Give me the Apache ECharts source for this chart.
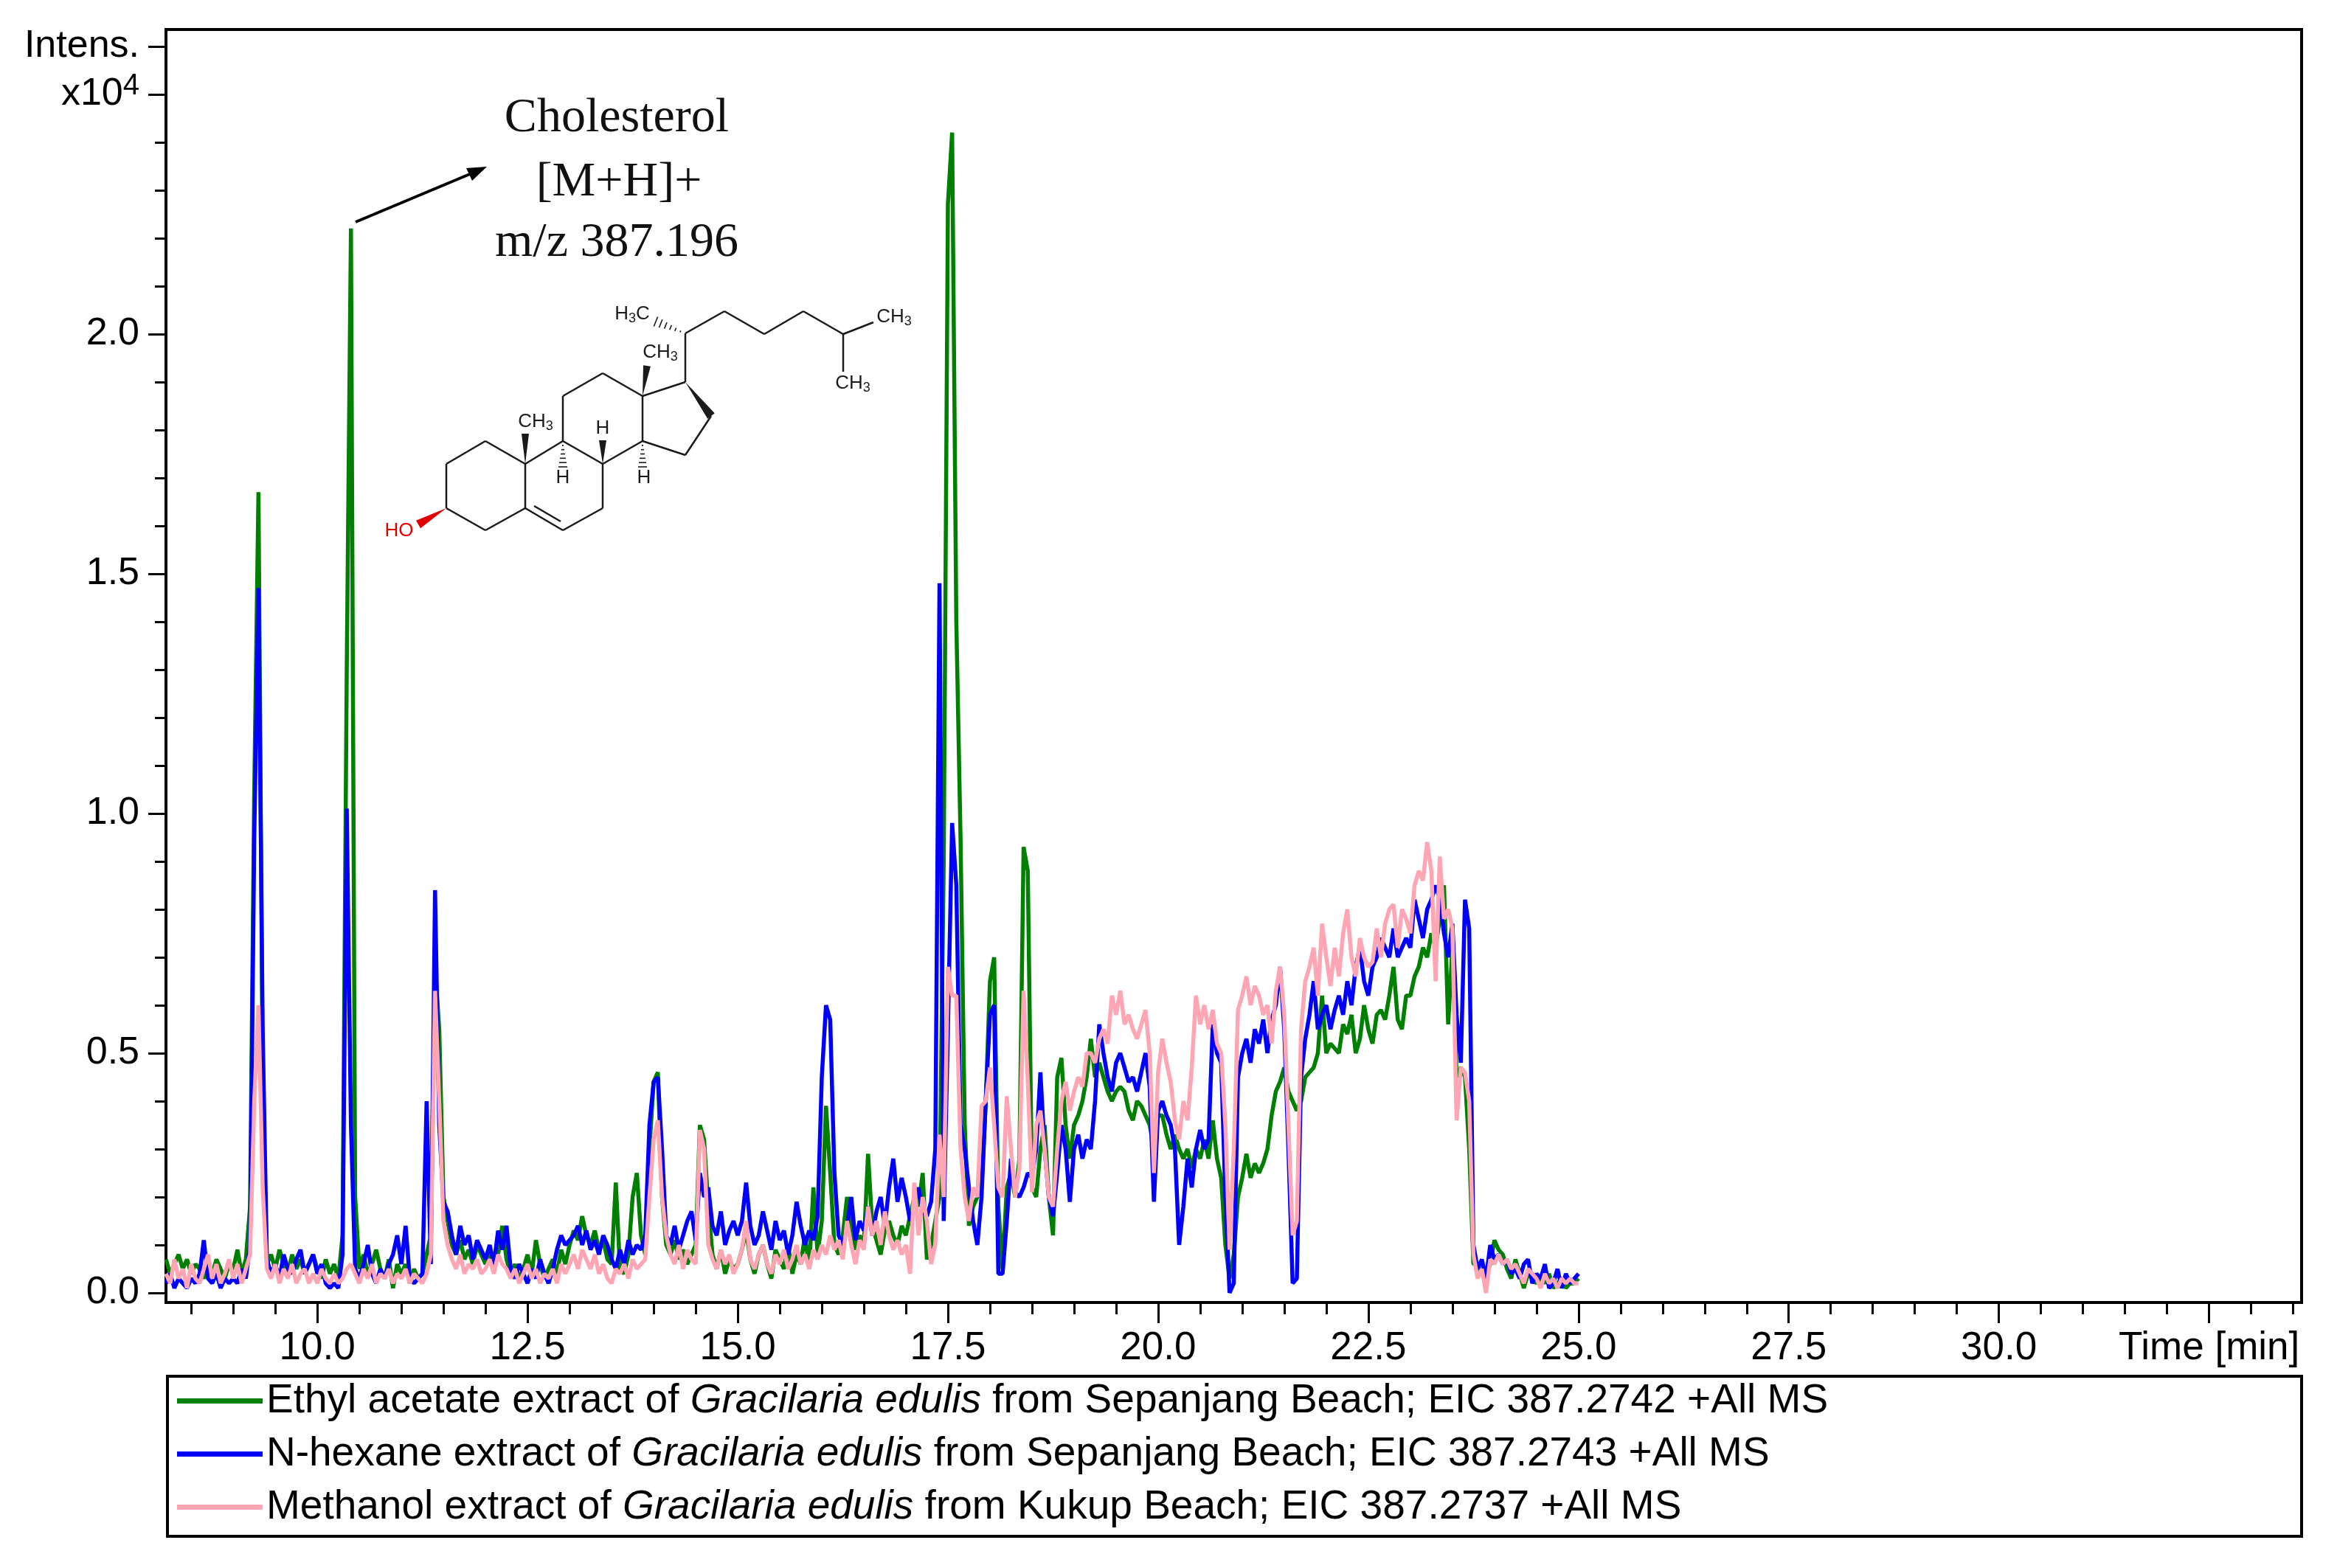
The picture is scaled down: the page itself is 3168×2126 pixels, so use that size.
<!DOCTYPE html>
<html>
<head>
<meta charset="utf-8">
<title>EIC 387.27 - Gracilaria edulis extracts</title>
<script src="https://cdn.jsdelivr.net/npm/echarts@6.0.0/dist/echarts.min.js"></script>
<style>
  html, body { margin: 0; padding: 0; background: #fff; }
  #chart { width: 3168px; height: 2126px; }
</style>
</head>
<body>
<div id="chart"></div>
<script>
// sampling grid of the traces (min)
var startTime = 8.2;
var sampleStep = 0.05;

// intensities x10^4, one value per 0.05 min
var ethylAcetate = [
    0.07, 0.04, 0.06, 0.08, 0.05, 0.07, 0.04, 0.06, 0.05, 0.03, 0.06, 0.04, 0.07, 0.05, 0.03, 0.06,
    0.05, 0.09, 0.04, 0.07, 0.18, 1.05, 1.67, 0.45, 0.06, 0.08, 0.05, 0.09, 0.06, 0.04, 0.08, 0.05, 0.07, 0.04, 0.06, 0.08,
    0.05, 0.03, 0.07, 0.04, 0.06, 0.03, 0.12, 1.30, 2.22, 0.20, 0.05, 0.08, 0.04, 0.06, 0.09, 0.05, 0.03, 0.07, 0.01, 0.06,
    0.04, 0.06, 0.02, 0.05, 0.03, 0.04, 0.08, 0.12, 0.68, 0.55, 0.20, 0.15, 0.10, 0.08, 0.11, 0.07, 0.09, 0.06, 0.10, 0.08,
    0.06, 0.09, 0.05, 0.08, 0.14, 0.07, 0.04, 0.06, 0.03, 0.05, 0.08, 0.04, 0.11, 0.06, 0.03, 0.05, 0.07, 0.04, 0.09, 0.06,
    0.10, 0.13, 0.11, 0.16, 0.12, 0.10, 0.13, 0.09, 0.11, 0.07, 0.06, 0.23, 0.05, 0.04, 0.08, 0.20, 0.25, 0.12, 0.08, 0.30,
    0.44, 0.46, 0.20, 0.10, 0.08, 0.11, 0.07, 0.09, 0.06, 0.08, 0.10, 0.35, 0.32, 0.18, 0.08, 0.05, 0.09, 0.04, 0.07, 0.05,
    0.06, 0.09, 0.13, 0.07, 0.04, 0.08, 0.10, 0.06, 0.03, 0.09, 0.07, 0.05, 0.10, 0.04, 0.08, 0.06, 0.12, 0.05, 0.22, 0.08,
    0.15, 0.39, 0.25, 0.10, 0.08, 0.12, 0.20, 0.14, 0.09, 0.12, 0.10, 0.29, 0.14, 0.11, 0.08, 0.13, 0.15, 0.12, 0.10, 0.14,
    0.12, 0.16, 0.20, 0.18, 0.25, 0.07, 0.10, 0.15, 0.20, 0.90, 2.27, 2.42, 1.40, 0.95, 0.35, 0.14, 0.18, 0.20, 0.22, 0.40,
    0.65, 0.70, 0.18, 0.05, 0.22, 0.25, 0.20, 0.28, 0.93, 0.88, 0.22, 0.20, 0.30, 0.35, 0.20, 0.12, 0.45, 0.49, 0.35, 0.28,
    0.35, 0.37, 0.40, 0.45, 0.53, 0.45, 0.48, 0.45, 0.42, 0.40, 0.42, 0.43, 0.42, 0.38, 0.36, 0.40, 0.39, 0.37, 0.35, 0.30,
    0.37, 0.37, 0.33, 0.30, 0.33, 0.30, 0.28, 0.30, 0.26, 0.30, 0.28, 0.32, 0.28, 0.36, 0.28, 0.24, 0.10, 0.03, 0.08, 0.20,
    0.24, 0.29, 0.24, 0.27, 0.25, 0.27, 0.30, 0.37, 0.42, 0.44, 0.47, 0.42, 0.40, 0.38, 0.40, 0.45, 0.46, 0.47, 0.50, 0.62,
    0.50, 0.52, 0.51, 0.50, 0.56, 0.54, 0.58, 0.50, 0.53, 0.60, 0.55, 0.52, 0.58, 0.59, 0.57, 0.62, 0.68, 0.57, 0.55, 0.62,
    0.62, 0.66, 0.68, 0.72, 0.70, 0.75, 0.72, 0.78, 0.85, 0.56, 0.72, 0.45, 0.47, 0.45, 0.30, 0.06, 0.06, 0.04, 0.04, 0.06,
    0.11, 0.09, 0.08, 0.05, 0.03, 0.07, 0.04, 0.01, 0.04, 0.03, 0.02, 0.03, 0.02, 0.04, 0.01, 0.02, 0.03, 0.01, 0.02, 0.02,
    0.03
];

var nHexane = [
    0.02, 0.04, 0.01, 0.03, 0.02, 0.01, 0.03, 0.02, 0.04, 0.11, 0.03, 0.02, 0.04, 0.01, 0.03, 0.02,
    0.03, 0.02, 0.05, 0.03, 0.10, 0.95, 1.47, 0.55, 0.07, 0.04, 0.06, 0.03, 0.08, 0.05, 0.04, 0.07, 0.09, 0.04, 0.06, 0.08,
    0.04, 0.06, 0.02, 0.01, 0.02, 0.01, 0.08, 1.01, 0.35, 0.05, 0.03, 0.06, 0.10, 0.04, 0.02, 0.05, 0.03, 0.06, 0.08, 0.12,
    0.06, 0.14, 0.03, 0.02, 0.03, 0.04, 0.40, 0.06, 0.84, 0.35, 0.19, 0.17, 0.12, 0.08, 0.14, 0.10, 0.12, 0.07, 0.11, 0.09,
    0.07, 0.10, 0.06, 0.13, 0.09, 0.14, 0.05, 0.03, 0.06, 0.04, 0.02, 0.05, 0.03, 0.07, 0.04, 0.02, 0.05, 0.09, 0.12, 0.10,
    0.11, 0.12, 0.14, 0.10, 0.13, 0.09, 0.11, 0.08, 0.12, 0.10, 0.07, 0.05, 0.09, 0.06, 0.11, 0.08, 0.10, 0.09, 0.12, 0.35,
    0.44, 0.45, 0.30, 0.12, 0.10, 0.14, 0.09, 0.12, 0.15, 0.17, 0.11, 0.25, 0.20, 0.22, 0.14, 0.12, 0.17, 0.10, 0.13, 0.15,
    0.12, 0.15, 0.23, 0.14, 0.10, 0.12, 0.17, 0.13, 0.09, 0.15, 0.11, 0.13, 0.08, 0.12, 0.19, 0.14, 0.10, 0.13, 0.11, 0.16,
    0.45, 0.60, 0.57, 0.25, 0.12, 0.10, 0.14, 0.20, 0.11, 0.15, 0.13, 0.18, 0.12, 0.17, 0.20, 0.14, 0.22, 0.28, 0.19, 0.24,
    0.20, 0.15, 0.18, 0.22, 0.17, 0.16, 0.19, 0.30, 1.48, 0.15, 0.55, 0.98, 0.85, 0.35, 0.30, 0.22, 0.15, 0.10, 0.20, 0.40,
    0.58, 0.60, 0.04, 0.04, 0.15, 0.28, 0.21, 0.20, 0.22, 0.25, 0.24, 0.30, 0.46, 0.30, 0.20, 0.16, 0.25, 0.35, 0.30, 0.19,
    0.30, 0.33, 0.28, 0.32, 0.30, 0.40, 0.56, 0.50, 0.45, 0.42, 0.48, 0.50, 0.47, 0.44, 0.45, 0.42, 0.46, 0.50, 0.43, 0.19,
    0.38, 0.40, 0.37, 0.35, 0.30, 0.10, 0.18, 0.28, 0.22, 0.30, 0.34, 0.30, 0.32, 0.56, 0.50, 0.48, 0.20, 0.00, 0.02, 0.45,
    0.50, 0.53, 0.48, 0.55, 0.52, 0.57, 0.50, 0.57, 0.60, 0.68, 0.55, 0.30, 0.02, 0.03, 0.45, 0.53, 0.58, 0.65, 0.55, 0.58,
    0.60, 0.55, 0.59, 0.62, 0.58, 0.65, 0.60, 0.68, 0.72, 0.65, 0.62, 0.68, 0.70, 0.74, 0.72, 0.70, 0.76, 0.70, 0.72, 0.74,
    0.72, 0.82, 0.78, 0.74, 0.80, 0.82, 0.85, 0.82, 0.75, 0.70, 0.77, 0.58, 0.48, 0.82, 0.76, 0.10, 0.05, 0.07, 0.03, 0.10,
    0.07, 0.08, 0.06, 0.07, 0.04, 0.05, 0.03, 0.06, 0.07, 0.02, 0.04, 0.03, 0.06, 0.01, 0.02, 0.05, 0.01, 0.04, 0.02, 0.03,
    0.04
];

var methanol = [
    0.04, 0.02, 0.07, 0.03, 0.05, 0.01, 0.06, 0.03, 0.02, 0.05, 0.08, 0.03, 0.06, 0.02, 0.04, 0.07,
    0.03, 0.06, 0.02, 0.05, 0.08, 0.40, 0.60, 0.22, 0.05, 0.03, 0.06, 0.02, 0.05, 0.03, 0.06, 0.02, 0.04, 0.05, 0.02, 0.04,
    0.02, 0.05, 0.03, 0.02, 0.04, 0.02, 0.03, 0.05, 0.06, 0.04, 0.02, 0.05, 0.03, 0.06, 0.02, 0.04, 0.03, 0.05, 0.02, 0.04,
    0.03, 0.05, 0.02, 0.04, 0.03, 0.02, 0.04, 0.08, 0.63, 0.40, 0.15, 0.10, 0.07, 0.05, 0.08, 0.04, 0.06, 0.05, 0.07, 0.04,
    0.05, 0.07, 0.04, 0.08, 0.06, 0.05, 0.03, 0.05, 0.02, 0.04, 0.06, 0.03, 0.05, 0.02, 0.04, 0.03, 0.05, 0.02, 0.06, 0.04,
    0.06, 0.08, 0.05, 0.09, 0.07, 0.05, 0.08, 0.04, 0.06, 0.03, 0.02, 0.05, 0.04, 0.06, 0.03, 0.07, 0.05, 0.06, 0.07, 0.20,
    0.32, 0.36, 0.20, 0.12, 0.08, 0.06, 0.10, 0.05, 0.09, 0.07, 0.06, 0.34, 0.30, 0.10, 0.07, 0.05, 0.09, 0.06, 0.08, 0.04,
    0.06, 0.09, 0.15, 0.07, 0.05, 0.08, 0.10, 0.06, 0.04, 0.08, 0.06, 0.09, 0.05, 0.07, 0.10, 0.06, 0.08, 0.05, 0.09, 0.07,
    0.10, 0.08, 0.12, 0.09, 0.11, 0.07, 0.15, 0.10, 0.06, 0.11, 0.09, 0.18, 0.12, 0.15, 0.10, 0.17, 0.12, 0.09, 0.11, 0.08,
    0.10, 0.04, 0.23, 0.12, 0.20, 0.15, 0.06, 0.10, 0.33, 0.20, 0.68, 0.62, 0.62, 0.30, 0.20, 0.15, 0.22, 0.20, 0.39, 0.40,
    0.47, 0.35, 0.22, 0.20, 0.41, 0.30, 0.20, 0.26, 0.63, 0.44, 0.21, 0.35, 0.38, 0.30, 0.20, 0.18, 0.30, 0.40, 0.44, 0.38,
    0.42, 0.45, 0.43, 0.50, 0.50, 0.48, 0.53, 0.55, 0.52, 0.62, 0.58, 0.63, 0.56, 0.58, 0.55, 0.53, 0.56, 0.59, 0.50, 0.25,
    0.46, 0.53, 0.48, 0.44, 0.36, 0.32, 0.40, 0.36, 0.47, 0.62, 0.56, 0.60, 0.55, 0.59, 0.52, 0.50, 0.35, 0.09, 0.30, 0.59,
    0.62, 0.66, 0.60, 0.64, 0.62, 0.58, 0.60, 0.52, 0.63, 0.68, 0.58, 0.35, 0.12, 0.15, 0.55, 0.65, 0.68, 0.72, 0.62, 0.77,
    0.70, 0.64, 0.72, 0.66, 0.75, 0.80, 0.70, 0.66, 0.74, 0.70, 0.68, 0.69, 0.76, 0.70, 0.77, 0.80, 0.81, 0.72, 0.80, 0.78,
    0.75, 0.85, 0.88, 0.86, 0.94, 0.88, 0.65, 0.91, 0.78, 0.80, 0.76, 0.36, 0.47, 0.46, 0.40, 0.08, 0.03, 0.05, 0.00, 0.07,
    0.06, 0.08, 0.06, 0.07, 0.05, 0.06, 0.04, 0.02, 0.05, 0.04, 0.03, 0.01, 0.04, 0.02, 0.03, 0.01, 0.03, 0.02, 0.03, 0.02,
    0.02
];

// axis ticks
var timeLabelTicks = [10, 12.5, 15, 17.5, 20, 22.5, 25, 27.5, 30, 32.5];
var intensLabelTicks = [0, 0.5, 1.0, 1.5, 2.0, 2.5, 2.6];

var seriesNames = [
    'Ethyl acetate extract of {i|Gracilaria edulis} from Sepanjang Beach; EIC 387.2742 +All MS',
    'N-hexane extract of {i|Gracilaria edulis} from Sepanjang Beach; EIC 387.2743 +All MS',
    'Methanol extract of {i|Gracilaria edulis} from Kukup Beach; EIC 387.2737 +All MS'
];
var seriesColors = ['#008000', '#0000ff', '#ffa5b3'];

var FONT = 'Liberation Sans, Arial, sans-serif';

function toPairs(values) {
    return values.map(function(v, i) {
        return [+(startTime + i * sampleStep).toFixed(2), v];
    });
}

var minorTimeTicks = [];
for (var t = 8.5; t <= 33.5; t += 0.5) {
    if (timeLabelTicks.indexOf(t) < 0) minorTimeTicks.push(t);
}
var minorIntensTicks = [];
for (var k = 1; k <= 24; k++) {
    if (k % 5 !== 0) minorIntensTicks.push(k / 10);
}

// ---- cholesterol structure (decoration) ----
var atoms = {
    c1: [658, 598], c2: [605, 629], c3: [605, 689], c4: [658, 719], c5: [712, 689], c10: [712, 629],
    c9: [763, 598], c8: [817, 629], c7: [817, 689], c6: [763, 719],
    c11: [763, 537], c12: [817, 506], c13: [871, 537], c14: [871, 598],
    c17: [929, 518], c16: [964, 564], c15: [929, 617],
    c20: [929, 452], c22: [982, 422], c23: [1036, 453], c24: [1089, 422], c25: [1143, 453]
};
var bondColor = '#1a1a1a';

function bond(p, q) {
    return {type: 'line', shape: {x1: p[0], y1: p[1], x2: q[0], y2: q[1]},
            style: {stroke: bondColor, lineWidth: 2.5}, z: 10};
}
function wedge(p, q, w, color) {
    var dx = q[0] - p[0], dy = q[1] - p[1], len = Math.sqrt(dx * dx + dy * dy);
    var nx = -dy / len * w, ny = dx / len * w;
    return {type: 'polygon', shape: {points: [p, [q[0] + nx, q[1] + ny], [q[0] - nx, q[1] - ny]]},
            style: {fill: color || bondColor}, z: 10};
}
function hashed(p, q, w) {
    var dx = q[0] - p[0], dy = q[1] - p[1], len = Math.sqrt(dx * dx + dy * dy);
    var nx = -dy / len, ny = dx / len, out = [];
    for (var n = 1; n <= 6; n++) {
        var f = n / 6, cx = p[0] + dx * f, cy = p[1] + dy * f, hw = w * f;
        out.push({type: 'line', shape: {x1: cx - nx * hw, y1: cy - ny * hw, x2: cx + nx * hw, y2: cy + ny * hw},
                  style: {stroke: bondColor, lineWidth: 1.6}, z: 10});
    }
    return out;
}
function atomLabel(text, x, y, color) {
    return {type: 'text', z: 10,
            style: {text: text, x: x, y: y, fill: color || bondColor, font: '26px ' + FONT,
                    align: 'center', verticalAlign: 'middle', textAlign: 'center', textVerticalAlign: 'middle',
                    rich: {s: {fontSize: 18, fontFamily: FONT, fill: color || bondColor, verticalAlign: 'bottom', padding: [12, 0, 0, 0]}}}};
}

var a = atoms;
var structure = [
    bond(a.c1, a.c2), bond(a.c2, a.c3), bond(a.c3, a.c4), bond(a.c4, a.c5), bond(a.c5, a.c10), bond(a.c10, a.c1),
    bond(a.c10, a.c9), bond(a.c9, a.c8), bond(a.c8, a.c7), bond(a.c7, a.c6), bond(a.c6, a.c5),
    bond([724, 686], [760, 707]),
    bond(a.c9, a.c11), bond(a.c11, a.c12), bond(a.c12, a.c13), bond(a.c13, a.c14), bond(a.c14, a.c8),
    bond(a.c13, a.c17), bond(a.c16, a.c15), bond(a.c15, a.c14),
    wedge(a.c17, a.c16, 6),
    bond(a.c17, a.c20), bond(a.c20, a.c22), bond(a.c22, a.c23), bond(a.c23, a.c24), bond(a.c24, a.c25),
    bond(a.c25, [1184, 437]), bond(a.c25, [1143, 504]),
    wedge(a.c10, [712, 588], 5), wedge(a.c13, [877, 496], 5), wedge(a.c8, [817, 597], 5),
    wedge(a.c3, [567, 711], 6, '#e00000'),
    atomLabel('CH{s|3}', 726, 572), atomLabel('CH{s|3}', 895, 478), atomLabel('H{s|3}C', 857, 426),
    atomLabel('CH{s|3}', 1212, 430), atomLabel('CH{s|3}', 1156, 520),
    atomLabel('H', 817, 581), atomLabel('H', 763, 648), atomLabel('H', 873, 648),
    atomLabel('HO', 541, 720, '#e00000')
].concat(hashed(a.c20, [889, 436], 7), hashed(a.c9, [763, 633], 6), hashed(a.c14, [871, 633], 6));

// ---- annotation text and arrow ----
var annotation = [
    {type: 'line', shape: {x1: 482, y1: 301, x2: 637, y2: 236}, style: {stroke: '#000', lineWidth: 4}, z: 10},
    {type: 'polygon', shape: {points: [[660, 226], [640, 245], [632, 228]]}, style: {fill: '#000'}, z: 10},
    {type: 'text', z: 10, style: {text: 'Cholesterol', x: 836, y: 161, fill: '#111', font: '66px Liberation Serif, Times New Roman, serif',
        align: 'center', verticalAlign: 'middle', textAlign: 'center', textVerticalAlign: 'middle'}},
    {type: 'text', z: 10, style: {text: '[M+H]+', x: 839, y: 248, fill: '#111', font: '66px Liberation Serif, Times New Roman, serif',
        align: 'center', verticalAlign: 'middle', textAlign: 'center', textVerticalAlign: 'middle'}},
    {type: 'text', z: 10, style: {text: 'm/z 387.196', x: 836, y: 330, fill: '#111', font: '66px Liberation Serif, Times New Roman, serif',
        align: 'center', verticalAlign: 'middle', textAlign: 'center', textVerticalAlign: 'middle'}},
    // legend frame
    {type: 'rect', shape: {x: 227, y: 1866, width: 2893, height: 217}, style: {fill: 'none', stroke: '#000', lineWidth: 4}, z: 1}
];

var chart = echarts.init(document.getElementById('chart'));

var option = {
    animation: false,
    backgroundColor: '#fff',
    grid: {left: 225, right: 48, top: 40, bottom: 360, show: true, borderColor: '#000', borderWidth: 4},
    legend: {
        orient: 'vertical',
        left: 240,
        top: 1872,
        padding: 0,
        itemGap: 17,
        itemWidth: 116,
        itemHeight: 7,
        icon: 'rect',
        selectedMode: false,
        data: seriesNames,
        textStyle: {
            fontFamily: FONT, fontSize: 55, color: '#000', lineHeight: 54,
            rich: {i: {fontFamily: FONT, fontSize: 55, fontStyle: 'italic', color: '#000', lineHeight: 54}}
        }
    },
    xAxis: [{
        type: 'value',
        min: 8.2,
        max: 33.6,
        splitLine: {show: false},
        axisLine: {onZero: false, lineStyle: {color: '#000', width: 4}},
        axisTick: {customValues: timeLabelTicks, length: 28, lineStyle: {color: '#000', width: 3}},
        axisLabel: {
            customValues: timeLabelTicks,
            margin: 36,
            color: '#000',
            fontFamily: FONT,
            fontSize: 53,
            formatter: function(v) { return v === 32.5 ? 'Time [min]' : v.toFixed(1); }
        }
    }, {
        type: 'value',
        min: 8.2,
        max: 33.6,
        position: 'bottom',
        splitLine: {show: false},
        axisLine: {show: false, onZero: false},
        axisTick: {customValues: minorTimeTicks, length: 16, lineStyle: {color: '#000', width: 3}},
        axisLabel: {show: false}
    }],
    yAxis: [{
        type: 'value',
        min: -0.02,
        max: 2.635,
        position: 'left',
        splitLine: {show: false},
        axisLine: {show: true, lineStyle: {color: '#000', width: 4}},
        axisTick: {customValues: intensLabelTicks, length: 24, lineStyle: {color: '#000', width: 3}},
        axisLabel: {
            customValues: intensLabelTicks,
            margin: 36,
            color: '#000',
            fontFamily: FONT,
            fontSize: 52,
            formatter: function(v) {
                if (v === 2.6) return 'Intens.';
                if (v === 2.5) return 'x10{sup|4}';
                return v.toFixed(1);
            },
            rich: {sup: {fontFamily: FONT, fontSize: 40, color: '#000', verticalAlign: 'top', padding: [0, 0, 22, 0]}}
        }
    }, {
        type: 'value',
        min: -0.02,
        max: 2.635,
        position: 'left',
        splitLine: {show: false},
        axisLine: {show: false},
        axisTick: {customValues: minorIntensTicks, length: 15, lineStyle: {color: '#000', width: 3}},
        axisLabel: {show: false}
    }],
    series: [ethylAcetate, nHexane, methanol].map(function(values, i) {
        return {
            name: seriesNames[i],
            type: 'line',
            data: toPairs(values),
            showSymbol: false,
            symbol: 'none',
            color: seriesColors[i],
            lineStyle: {color: seriesColors[i], width: 5.5},
            z: 2 + i
        };
    }),
    graphic: annotation.concat(structure)
};

chart.setOption(option);
</script>
</body>
</html>
